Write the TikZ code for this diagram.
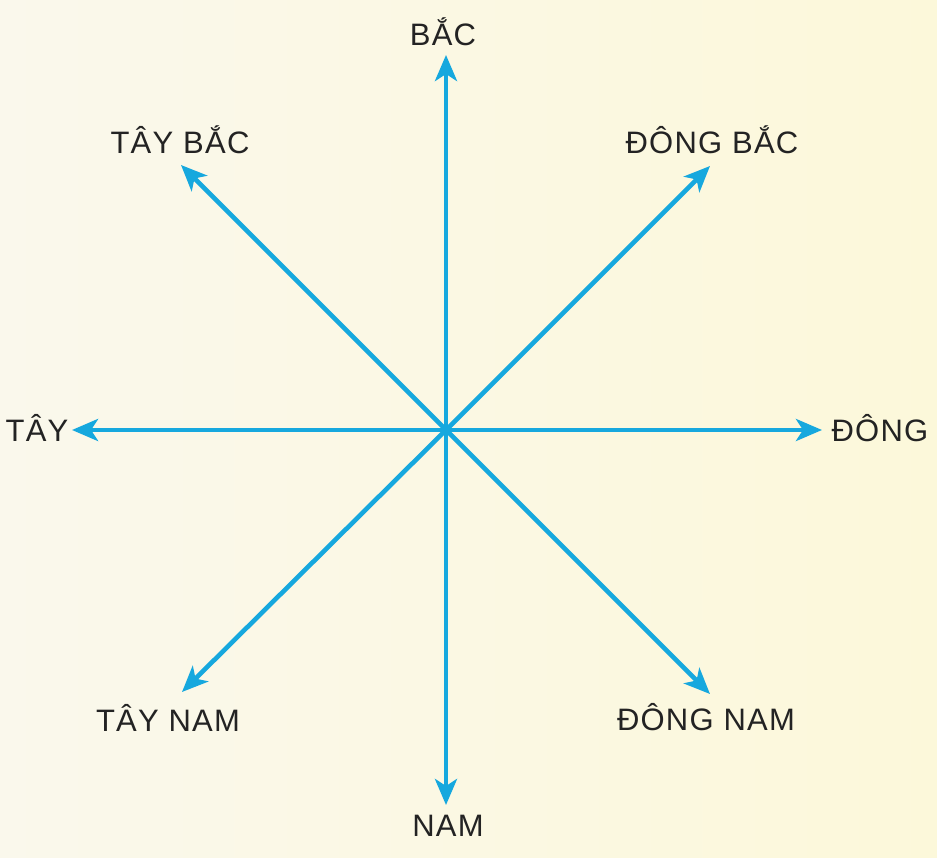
\documentclass[tikz,border=0pt]{standalone}
\usepackage{fontspec}
\setmainfont{Liberation Sans}[LetterSpace=4]
\usetikzlibrary{arrows.meta}
\definecolor{arrowblue}{RGB}{22,168,222}
\definecolor{bgyellow}{RGB}{252,248,218}
\definecolor{bglight}{RGB}{250,248,236}
\definecolor{txt}{RGB}{35,35,35}
\begin{document}
\begin{tikzpicture}[x=1pt,y=-1pt,
  dirarrow/.style={draw=arrowblue, line width=4.6pt,
    -{Stealth[length=26pt,width=22pt,inset=7pt]}},
  dirlabel/.style={text=txt, font=\fontsize{31}{33}\selectfont, inner sep=0pt}]
\shade[left color=bglight, right color=bgyellow] (0,0) rectangle (937,858);
\useasboundingbox (0,0) rectangle (937,858);
\coordinate (o) at (446,430);
\coordinate (n) at (446,55);
\coordinate (s) at (446,805);
\coordinate (w) at (72,430);
\coordinate (e) at (822,430);
\coordinate (ne) at (710,166);
\coordinate (nw) at (181,165);
\coordinate (se) at (710,694);
\coordinate (sw) at (182,692);
\foreach \d in {n,s,w,e,ne,nw,se,sw} \draw[dirarrow] (o) -- (\d);
\node[dirlabel] (lbac) at (443,32) {BẮC};
\node[dirlabel] (lnam) at (448,826) {NAM};
\node[dirlabel] (ltay) at (37,428) {TÂY};
\node[dirlabel] (ldong) at (880,428) {ĐÔNG};
\node[dirlabel] (ltb) at (180,140) {TÂY BẮC};
\node[dirlabel] (ldb) at (712,140) {ĐÔNG BẮC};
\node[dirlabel] (ltn) at (168,718) {TÂY NAM};
\node[dirlabel] (ldn) at (706,717) {ĐÔNG NAM};
\end{tikzpicture}
\end{document}
